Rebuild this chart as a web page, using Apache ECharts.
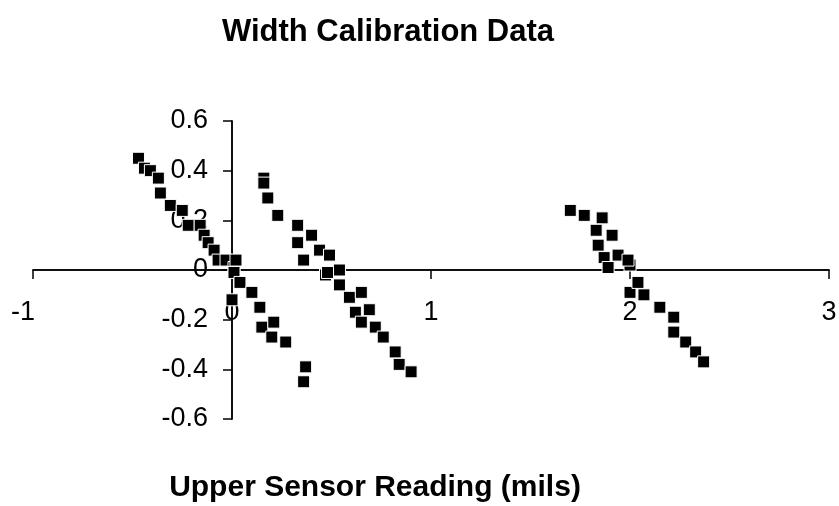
<!DOCTYPE html>
<html>
<head>
<meta charset="utf-8">
<script src="https://cdn.jsdelivr.net/npm/echarts@6/dist/echarts.min.js"></script>
<style>
  html, body { margin: 0; padding: 0; background: #fff; }
  #chart { width: 839px; height: 506px; }
</style>
</head>
<body>
<div id="chart"></div>
<script>
// three calibration runs, [reading, error]
var runA = [
  [-0.47, 0.45], [-0.44, 0.41], [-0.41, 0.40], [-0.37, 0.37], [-0.36, 0.31],
  [-0.31, 0.26], [-0.25, 0.24], [-0.22, 0.18], [-0.16, 0.18], [-0.14, 0.14],
  [-0.12, 0.11], [-0.09, 0.08], [-0.07, 0.04], [-0.03, 0.04], [0.01, 0.01],
  [0.02, 0.04], [0.01, -0.01], [0.04, -0.05], [0.0, -0.12], [0.10, -0.09],
  [0.14, -0.15], [0.15, -0.23], [0.21, -0.21], [0.20, -0.27], [0.27, -0.29],
  [0.37, -0.39], [0.36, -0.45]
];
var runB = [
  [0.16, 0.37], [0.16, 0.35], [0.18, 0.29], [0.23, 0.22], [0.33, 0.18],
  [0.33, 0.11], [0.40, 0.14], [0.36, 0.04], [0.44, 0.08], [0.47, -0.02],
  [0.49, 0.06], [0.54, 0.0], [0.48, -0.01], [0.54, -0.06], [0.59, -0.11],
  [0.65, -0.09], [0.69, -0.16], [0.62, -0.17], [0.72, -0.23], [0.65, -0.21],
  [0.76, -0.27], [0.82, -0.33], [0.84, -0.38], [0.90, -0.41]
];
var runC = [
  [1.70, 0.24], [1.77, 0.22], [1.86, 0.21], [1.83, 0.16], [1.84, 0.10],
  [1.91, 0.14], [1.94, 0.06], [1.87, 0.05], [2.00, 0.02], [1.89, 0.01],
  [1.99, 0.04], [2.00, -0.09], [2.07, -0.10], [2.04, -0.05], [2.15, -0.15],
  [2.22, -0.19], [2.22, -0.25], [2.28, -0.29], [2.33, -0.33], [2.37, -0.37]
];

var xMin = -1, xMax = 3, xStep = 1;
var yMin = -0.6, yMax = 0.6, yStep = 0.2;

var chart = echarts.init(document.getElementById('chart'));

var font = 'Liberation Sans, Arial, sans-serif';
var axisBase = {
  type: 'value',
  axisLine: { onZero: true, lineStyle: { color: '#000', width: 1.5 } },
  splitLine: { show: false }
};

// labels don't follow the zero-crossing line, so pull them in with negative margins
function xAx(inside, labels) {
  return Object.assign({}, axisBase, {
    min: xMin, max: xMax, interval: xStep,
    axisTick: { inside: inside, length: 9, lineStyle: { color: '#000', width: 1.5 } },
    axisLabel: {
      show: labels, margin: -120, color: '#000', fontSize: 27, fontFamily: font,
      formatter: function (v) { return v < 0 ? '{n|' + v + '}' : String(v); },
      rich: { n: { fontSize: 27, fontFamily: font, color: '#000', padding: [0, 20, 0, 0] } }
    }
  });
}
function yAx(inside, labels) {
  return Object.assign({}, axisBase, {
    min: yMin, max: yMax, interval: yStep,
    axisTick: { inside: inside, length: 9, lineStyle: { color: '#000', width: 1.5 } },
    axisLabel: {
      show: labels, margin: -175, color: '#000', fontSize: 27, fontFamily: font,
      formatter: function (v) { return String(Math.round(v * 10) / 10); }
    }
  });
}

function run(data) {
  return {
    type: 'scatter',
    data: data,
    symbol: 'rect',
    symbolSize: 12,
    itemStyle: { color: '#000', opacity: 1, borderColor: '#fff', borderWidth: 1 }
  };
}

chart.setOption({
  animation: false,
  title: [{
    text: 'Width Calibration Data',
    left: 383, top: 12, textAlign: 'center',
    textStyle: { fontSize: 31, fontWeight: 'bold', color: '#000', fontFamily: font }
  }, {
    text: 'Upper Sensor Reading (mils)',
    left: 370, top: 468, textAlign: 'center',
    textStyle: { fontSize: 30, fontWeight: 'bold', color: '#000', fontFamily: font }
  }],
  grid: { left: 33, right: 10, top: 121, bottom: 87, outerBoundsMode: 'none' },
  xAxis: [xAx(false, true), xAx(true, false)],
  yAxis: [yAx(false, true), yAx(true, false)],
  series: [run(runA), run(runB), run(runC)]
});
</script>
</body>
</html>
